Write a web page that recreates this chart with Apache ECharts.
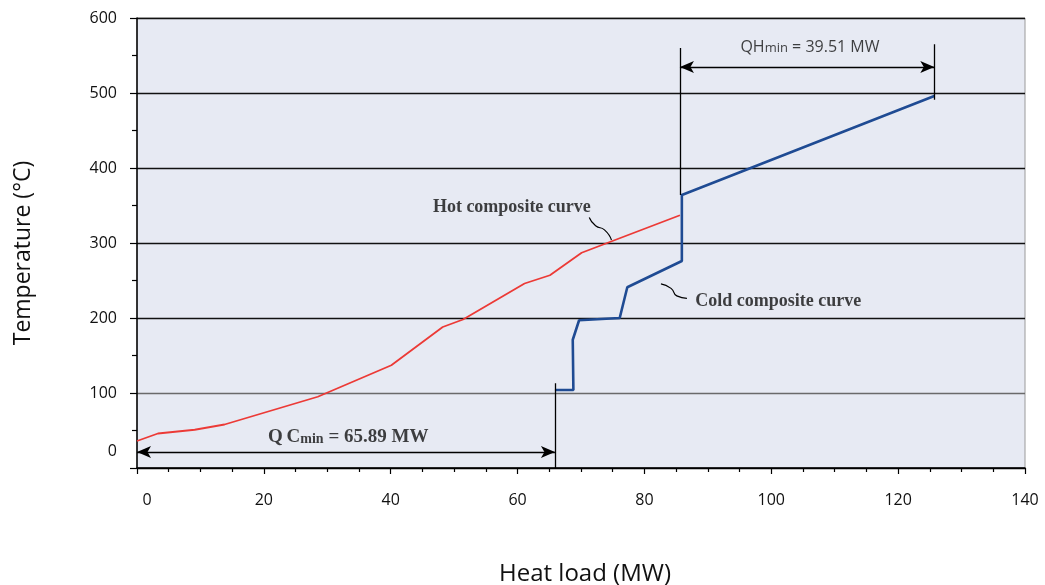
<!DOCTYPE html>
<html>
<head>
<meta charset="utf-8">
<script src="https://cdn.jsdelivr.net/npm/echarts@6/dist/echarts.min.js"></script>
<style>html,body{margin:0;padding:0;background:#fff}#c{width:1045px;height:585px}</style>
</head>
<body>
<div id="c"></div>
<script>
// ---- data ----
const xTicks = [0, 20, 40, 60, 80, 100, 120, 140];
const yTicks = [0, 100, 200, 300, 400, 500, 600];
const hotLoad = [0, 3.3, 9.1, 13.8, 28.5, 40.1, 48.2, 51.4, 61.1, 65.1, 70.1, 85.6];
const hotTemp = [36, 46, 51, 58, 95, 137, 188, 198, 246, 257, 287, 337];
const coldLoad = [65.89, 68.8, 68.7, 69.7, 76.1, 77.3, 85.9, 85.9, 125.7];
const coldTemp = [104, 104, 171, 197, 200, 241, 276, 364, 496];
const qcMin = 65.89;
const qhMin = 39.51;
const qhStart = 85.6;
const qhEnd = 125.7;

const hotData = hotLoad.map((x, i) => [x, hotTemp[i]]);
const coldData = coldLoad.map((x, i) => [x, coldTemp[i]]);

const chart = echarts.init(document.getElementById('c'));
const sans = '"Open Sans", "Noto Sans", sans-serif';
const serif = '"Liberation Serif", "DejaVu Serif", serif';

function textPoint(x, y, fmt, rich) {
  return {
    type: 'scatter', symbolSize: 0, silent: true, z: 5,
    data: [[x, y]],
    label: { show: true, position: 'inside', formatter: fmt, rich: rich, color: '#111' }
  };
}

const option = {
  backgroundColor: '#ffffff',
  animation: false,
  grid: { left: 137, right: 20, top: 18, bottom: 117, show: true, containLabel: false,
          outerBoundsMode: 'none',
          backgroundColor: '#e7eaf3', borderColor: '#9a9a9a', borderWidth: 1 },
  xAxis: {
    type: 'value', min: 0, max: 140, interval: 20,
    name: 'Heat load (MW)', nameLocation: 'middle', nameGap: 94,
    nameTextStyle: { fontFamily: sans, fontSize: 24, color: '#111', padding: [0, 0, 0, 8] },
    axisLine: { onZero: false, lineStyle: { color: '#000', width: 1.5 } },
    axisTick: { show: true, length: 6, lineStyle: { color: '#000', width: 1.2 } },
    minorTick: { show: true, splitNumber: 4, length: 4, lineStyle: { color: '#000', width: 1.2 } },
    splitLine: { show: false },
    axisLabel: {
      margin: 24, fontFamily: sans, fontSize: 16, color: '#111',
      formatter: v => (v === 0 ? '{z|0}' : String(v)),
      rich: { z: { fontFamily: sans, fontSize: 16, color: '#111', padding: [0, 0, 0, 20] } }
    }
  },
  yAxis: {
    type: 'value', min: 0, max: 600, interval: 100,
    name: 'Temperature (°C)', nameLocation: 'middle', nameGap: 102,
    nameTextStyle: { fontFamily: sans, fontSize: 23, color: '#111', padding: [0, 20, 0, 0] },
    axisLine: { show: true, lineStyle: { color: '#000', width: 1.5 } },
    axisTick: { show: true, length: 7, lineStyle: { color: '#000', width: 1.2 } },
    minorTick: { show: true, splitNumber: 2, length: 5, lineStyle: { color: '#000', width: 1.2 } },
    splitLine: { show: true, lineStyle: { color: ['#000', '#6a6a6a', '#111', '#111', '#111', '#111', '#111'], width: 1.3 } },
    axisLabel: {
      margin: 20, fontFamily: sans, fontSize: 16, color: '#111',
      formatter: v => (v === 0 ? '{z|0}' : String(v)),
      rich: { z: { fontFamily: sans, fontSize: 16, color: '#111', padding: [0, 0, 34, 0] } }
    }
  },
  series: [
    { type: 'line', name: 'Hot composite curve', data: hotData, showSymbol: false, z: 3,
      lineStyle: { color: '#ec3a36', width: 1.8 } },
    { type: 'line', name: 'Cold composite curve', data: coldData, showSymbol: false, z: 3,
      lineStyle: { color: '#1f4b93', width: 2.6 } },
    // annotation lines and arrows
    { type: 'line', data: [], silent: true,
      markLine: {
        silent: true, animation: false, label: { show: false },
        lineStyle: { color: '#000', width: 1.3, type: 'solid' },
        symbol: ['none', 'none'],
        data: [
          [{ coord: [0, 21.3], symbol: 'arrow', symbolSize: [9, 14] }, { coord: [qcMin, 21.3], symbol: 'arrow', symbolSize: [9, 14] }],
          [{ coord: [qcMin, 0] }, { coord: [qcMin, 113] }],
          [{ coord: [qhStart, 534.7], symbol: 'arrow', symbolSize: [9, 14] }, { coord: [qhEnd, 534.7], symbol: 'arrow', symbolSize: [9, 14] }],
          [{ coord: [qhStart, 560] }, { coord: [qhStart, 364] }],
          [{ coord: [qhEnd, 565] }, { coord: [qhEnd, 491] }]
        ]
      }
    },
    // leader squiggles
    { type: 'line', smooth: 0.6, showSymbol: false, silent: true,
      data: [[71.3, 334], [72.3, 323], [73.7, 317.5], [74.8, 304]],
      lineStyle: { color: '#000', width: 1.2 } },
    { type: 'line', smooth: 0.6, showSymbol: false, silent: true,
      data: [[82.6, 245.5], [84.2, 239.5], [85.1, 229.5], [86.7, 226.3]],
      lineStyle: { color: '#000', width: 1.2 } },
    textPoint(59.1, 348, '{a|Hot composite curve}', { a: { fontFamily: serif, fontWeight: 'bold', fontSize: 18, color: '#111' } }),
    textPoint(101.1, 222.7, '{a|Cold composite curve}', { a: { fontFamily: serif, fontWeight: 'bold', fontSize: 18, color: '#111' } }),
    textPoint(33.3, 41.3, '{a|Q\u2009C}{b|min}{a| = ' + qcMin.toFixed(2) + ' MW}', {
      a: { fontFamily: serif, fontWeight: 'bold', fontSize: 19, color: '#111', lineHeight: 22 },
      b: { fontFamily: serif, fontWeight: 'bold', fontSize: 14, color: '#111', verticalAlign: 'bottom', lineHeight: 22, padding: [0, 0, 2, 0] }
    }),
    textPoint(106.1, 561.3, '{a|QH}{b|min}{a| = ' + qhMin.toFixed(2) + ' MW}', {
      a: { fontFamily: sans, fontSize: 16, color: '#111', lineHeight: 20 },
      b: { fontFamily: sans, fontSize: 13, color: '#111', verticalAlign: 'bottom', lineHeight: 20, padding: [0, 0, 2, 0] }
    })
  ]
};
chart.setOption(option);
</script>
</body>
</html>
